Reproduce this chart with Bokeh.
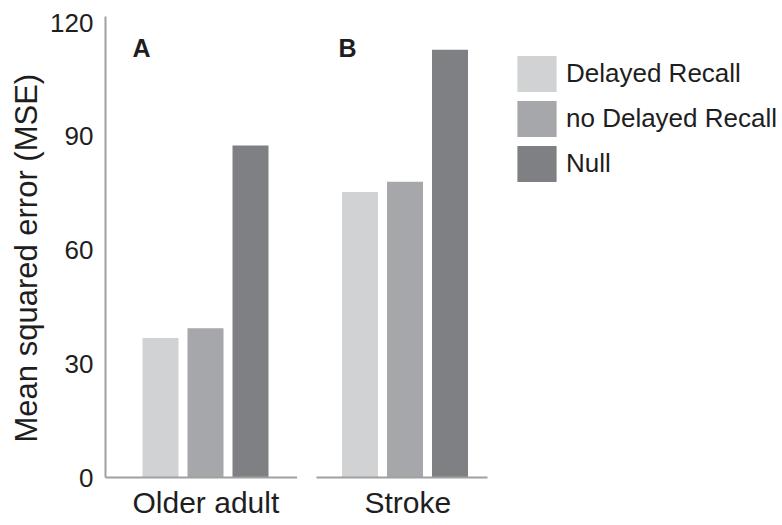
from bokeh.plotting import figure
from bokeh.layouts import row
from bokeh.models import Range1d, FixedTicker, Legend, LegendItem, Label, Title
from bokeh.embed import file_html
from bokeh.resources import INLINE
import numpy as np

groups = ["Older adult", "Stroke"]
series = ["Delayed Recall", "no Delayed Recall", "Null"]
older_adult = [36.8, 39.4, 87.6]
stroke = [75.3, 78.0, 112.8]
panel_letters = ["A", "B"]
y_ticks = [0, 30, 60, 90, 120]
colors = ["#d1d2d4", "#a6a7aa", "#7f8083"]

FONT = "Liberation Sans"
AXIS_COLOR = "#a0a0a0"
TEXT_COLOR = "#1e1e1e"
positions = np.arange(len(series)) + 0.5

def make_panel(values, group, letter, width, x_start, x_end, bounds, left, right,
               show_y, group_offset):
    p = figure(width=width, height=525, output_backend="svg", toolbar_location=None,
               x_range=Range1d(x_start, x_end), y_range=Range1d(0, 121.6),
               min_border_left=left, min_border_right=right,
               min_border_top=16, min_border_bottom=47)
    renderers = []
    for i, s in enumerate(series):
        r = p.vbar(x=[positions[i]], top=[values[i]], width=0.8,
                   fill_color=colors[i], line_color=None)
        renderers.append(r)
    p.xgrid.visible = False
    p.ygrid.visible = False
    p.outline_line_color = None
    p.background_fill_color = "white"
    p.border_fill_color = "white"

    xa = p.xaxis[0]
    xa.ticker = FixedTicker(ticks=[])
    xa.bounds = bounds
    xa.axis_line_color = AXIS_COLOR
    xa.axis_line_width = 2
    xa.major_tick_line_color = None
    xa.minor_tick_line_color = None
    xa.major_label_text_font_size = "0px"
    p.add_layout(Title(text=group, align="left", offset=group_offset, standoff=13,
                       text_font=FONT, text_font_style="normal", text_font_size="30px",
                       text_color=TEXT_COLOR), "below")

    ya = p.yaxis[0]
    if show_y:
        ya.ticker = FixedTicker(ticks=y_ticks)
        ya.major_label_text_font = FONT
        ya.major_label_text_font_size = "26px"
        ya.major_label_text_color = TEXT_COLOR
        ya.major_label_standoff = 6
        ya.axis_line_color = AXIS_COLOR
        ya.axis_line_width = 2
        ya.major_tick_line_color = None
        ya.minor_tick_line_color = None
        p.add_layout(Title(text="Mean squared error (MSE)", align="left", offset=35,
                           standoff=8, text_font=FONT, text_font_style="normal",
                           text_font_size="31px", text_color=TEXT_COLOR), "left")
    else:
        ya.visible = False

    lx = x_start + (27 if show_y else 22) / 45.0
    p.add_layout(Label(x=lx, y=113.3, text=letter, text_font=FONT,
                       text_font_style="bold", text_font_size="25px",
                       text_color=TEXT_COLOR, text_baseline="alphabetic"))
    return p, renderers

p1, _ = make_panel(older_adult, groups[0], panel_letters[0], 297,
                   -0.722, 3.544, (-0.722, 3.544), 105, 0, True, 27)
p2, rs = make_panel(stroke, groups[1], panel_letters[1], 485,
                    -0.467, 9.889, (-0.467, 3.333), 19, 0, False, 48)

legend = Legend(items=[LegendItem(label=s, renderers=[r]) for s, r in zip(series, rs)],
                location=(196, 291), padding=0, margin=0, spacing=0,
                glyph_width=49, glyph_height=45, label_height=45, label_standoff=5,
                label_text_font=FONT, label_text_font_size="26px",
                label_text_color=TEXT_COLOR, border_line_color=None,
                background_fill_alpha=0)
p2.add_layout(legend, "center")

layout = row(p1, p2)
open("out.html", "w").write(file_html(layout, INLINE))
